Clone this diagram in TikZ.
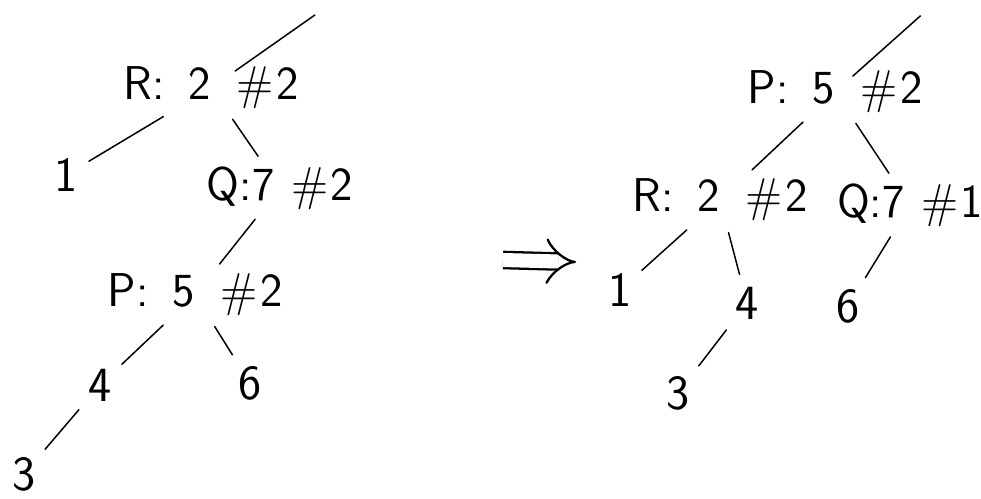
\documentclass[tikz,border=0pt]{standalone}
\usepackage{tikz}
\usetikzlibrary{arrows.meta,calc}
\tikzset{
  keylab/.style={font=\sffamily\fontsize{27}{30}\selectfont, inner sep=1.5pt, text=black},
  leaflab/.style={font=\sffamily\fontsize{28}{30}\selectfont, inner sep=2pt, text=black},
  treeedge/.style={line width=0.85pt, draw=black, shorten <=5pt, shorten >=5pt, line cap=round},
  inedge/.style={treeedge, shorten >=-7pt},
  rotarrow/.style={double, double distance=8pt, line width=1.3pt, -{Implies}}
}
\newcommand{\colsp}{\kern0.5em}
\newcommand{\hashno}[2]{\kern#1em\#\kern0.05em#2}

\begin{document}
\begin{tikzpicture}[x=0.02cm,y=-0.02cm]
  \useasboundingbox (0,0) rectangle (981,499);

  % left tree
  \node[keylab] (lR) at (211,88)  {R:\colsp2\hashno{0.55}{2}};
  \node[keylab] (lQ) at (280,188) {Q:7\hashno{0.35}{2}};
  \node[keylab] (lP) at (195,295) {P:\colsp5\hashno{0.55}{2}};
  \node[leaflab] (l1) at (66,175)  {1};
  \node[leaflab] (l4) at (100,385) {4};
  \node[leaflab] (l6) at (250,383) {6};
  \node[leaflab] (l3) at (24,474)  {3};
  \coordinate (lin) at (322,10);

  \draw[inedge] (lin) -- (lR);
  \draw[treeedge] (lR) -- (l1);
  \draw[treeedge] (lR) -- (lQ);
  \draw[treeedge] (lQ) -- (lP);
  \draw[treeedge] (lP) -- (l4);
  \draw[treeedge] (l6) -- (lP);
  \draw[treeedge] (l4) -- (l3);

  % rotation arrow
  \coordinate (arrL) at (503,260);
  \coordinate (arrR) at (576,262);
  \draw[rotarrow] (arrL) -- (arrR);

  % right tree
  \node[keylab] (rP) at (835,92)  {P:\colsp5\hashno{0.55}{2}};
  \node[keylab] (rR) at (720,200) {R:\colsp2\hashno{0.55}{2}};
  \node[keylab] (rQ) at (910,205) {Q:7\hashno{0.35}{1}};
  \node[leaflab] (r1) at (620,290) {1};
  \node[leaflab] (r4) at (747,303) {4};
  \node[leaflab] (r6) at (848,306) {6};
  \node[leaflab] (r3) at (678,393) {3};
  \coordinate (rin) at (927,10);

  \draw[inedge] (rin) -- (rP);
  \draw[treeedge] (rP) -- (rR);
  \draw[treeedge] (rP) -- (rQ);
  \draw[treeedge] (rR) -- (r1);
  \draw[treeedge] (rR) -- (r4);
  \draw[treeedge] (rQ) -- (r6);
  \draw[treeedge] (r4) -- (r3);

\end{tikzpicture}
\end{document}
